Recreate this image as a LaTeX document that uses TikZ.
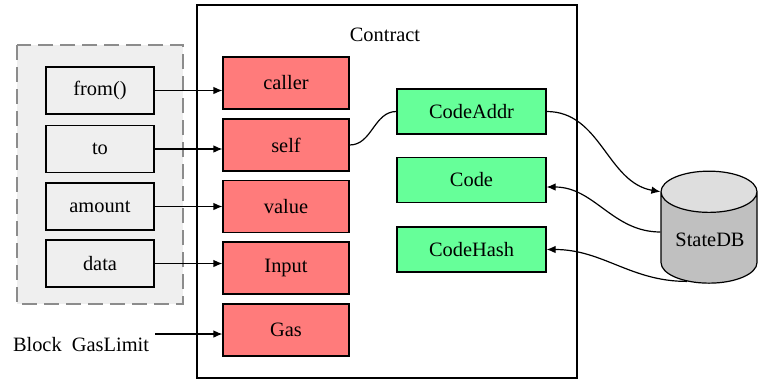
\documentclass[tikz,border=0pt]{standalone}
\usepackage{fontspec}
\setmainfont{Liberation Serif}
\usetikzlibrary{positioning,shapes.geometric}
\usetikzlibrary{arrows.meta}
\usepackage{xcolor}
\definecolor{fldred}{HTML}{FF7B7B}
\definecolor{fldgreen}{HTML}{66FF99}
\definecolor{argbg}{HTML}{EFEFEF}
\definecolor{dbgray}{HTML}{C0C0C0}
\definecolor{dbtop}{HTML}{DEDEDE}

\begin{document}
\begin{tikzpicture}[x=0.5pt,y=-0.5pt,
    font=\fontsize{10.2}{12}\selectfont,
    f/.style={-{Latex[length=4.5pt,width=3.8pt]},line width=0.6pt},%
    arg/.style={draw,line width=0.6pt,fill=argbg,minimum width=54pt,minimum height=23.5pt},%
    fld/.style={draw,line width=0.6pt,fill=fldred,minimum width=63pt,minimum height=26pt},%
    obj/.style={draw,line width=0.6pt,fill=fldgreen,minimum width=74.5pt,minimum height=22.5pt}]
    \useasboundingbox (0,0) rectangle (758,380);

    % message arguments
    \draw[gray!90,dash pattern=on 7.5pt off 3.5pt,line width=1.3pt,fill=argbg](17,45)rectangle(183,304);
    \node[arg] (frm) at (100,90.5) {from()} ;
    \node[arg] (to) at (100,149) {to} ;
    \node[arg] (amt) at (100,206.5) {amount} ;
    \node[arg] (dat) at (100,263.5) {data} ;
    \node (gl) at (81,345) {Block\ \ GasLimit} ;
    \coordinate (glx) at (155,334);

    % contract object
    \draw[line width=1.1pt](197,5)rectangle(577,378);
    \node (ctr) at (385,35) {Contract} ;
    \node[fld] (caller) at (286,83) {caller} ;
    \node[fld] (self) at (286,145) {self} ;
    \node[fld] (value) at (286,206.5) {value} ;
    \node[fld] (input) at (286,268) {Input} ;
    \node[fld] (gas) at (286,330) {Gas} ;
    \node[obj] (addr) at (471.5,111.5) {CodeAddr} ;
    \node[obj] (code) at (471.5,180) {Code} ;
    \node[obj] (hash) at (471.5,249.5) {CodeHash} ;

    % state database (label set a little below the middle)
    \node[cylinder,shape border rotate=90,aspect=0.5,draw,line width=0.6pt,
          cylinder uses custom fill,cylinder body fill=dbgray,cylinder end fill=dbtop,
          minimum width=48pt,minimum height=56pt] (db) at (709,243) {\phantom{StateDB}} ;
    \node (dbl) at (710,240) {StateDB} ;

    \draw[f] (frm.east) -- (frm.east -| caller.west) ;
    \draw[f] (to.east) -- (to.east -| self.west) ;
    \draw[f] (amt.east) -- (amt.east -| value.west) ;
    \draw[f] (dat.east) -- (dat.east -| input.west) ;
    \draw[f] (glx) -- (glx -| gas.west) ;

    \draw[line width=0.6pt] (self.east) to[out=0,in=180] (addr.west) ;
    \draw[f] (addr.east) to[out=0,in=170] (db.before top) ;
    \draw[f] ([yshift=5.5pt]db.west) to[out=180,in=0] ([yshift=-3.5pt]code.east) ;
    \draw[f] (db.240) to[out=180,in=0] (hash.east) ;
\end{tikzpicture}
\end{document}
